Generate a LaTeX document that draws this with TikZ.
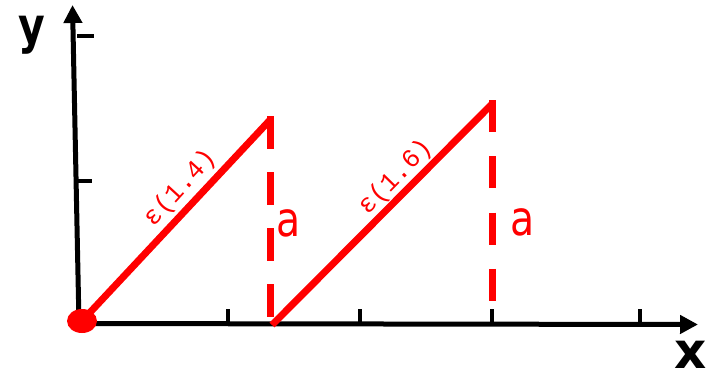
\documentclass[tikz,border=0pt]{standalone}
\usepackage{fontspec}
\setmainfont{DejaVu Sans}
\newfontfamily\monofnt{Liberation Mono}
\usetikzlibrary{arrows.meta}
\begin{document}
\begin{tikzpicture}[x=1pt,y=-1pt,
  axisline/.style={line width=5pt, -{Triangle[length=18pt,width=18pt]}},
  tickmark/.style={line width=4pt},
  redline/.style={red, line width=7pt},
  reddash/.style={red, line width=7pt, dash pattern=on 33pt off 23pt},
  elabel/.style={red, font=\monofnt\fontsize{26}{26}\selectfont, sloped, inner sep=1pt},
  alabel/.style={red, font=\fontsize{48}{48}\selectfont, anchor=base, inner sep=0pt, xscale=0.82},
  axlabel/.style={font=\bfseries\fontsize{50}{50}\selectfont, anchor=base, inner sep=0pt}]
\useasboundingbox (0,0) rectangle (708,369);
% coordinates
\coordinate (yb) at (79,324);
\coordinate (yt) at (72.5,5);
\coordinate (xl) at (76,323.5);
\coordinate (xr) at (698,324.5);
\coordinate (O) at (82,321);
\coordinate (P1) at (270,116);
\coordinate (P1e) at (270,120);
\coordinate (B1) at (270,322);
\coordinate (Q1) at (272,325);
\coordinate (P2) at (492,100);
\coordinate (P2e) at (492,104);
\coordinate (B2) at (492,323);
% axes
\draw[axisline] (yb) -- (yt);
\draw[axisline] (xl) -- (xr);
% ticks
\draw[tickmark] (77,36) -- (94,36);
\draw[tickmark] (76,181) -- (92,181);
\foreach \tx in {228,360,492,640} \draw[tickmark] (\tx,323) -- (\tx,309);
% red dashed verticals
\draw[reddash] (P1) -- (B1);
\draw[reddash, dash pattern=on 32pt off 24.3pt] (P2) -- (B2);
% red diagonals
\draw[redline] (O) -- (P1e);
\draw[redline] (Q1) -- (P2e);
\fill[red] (O) ellipse [x radius=15, y radius=12];
% labels
\path (O) -- node[elabel, pos=0.59, above=4pt] (e1) {ε(1.4)} (P1);
\path (Q1) -- node[elabel, pos=0.61, above=1.5pt] (e2) {ε(1.6)} (P2);
\node[alabel] (a1) at (288.5,236) {a};
\node[alabel] (a2) at (523,235) {a};
\node[axlabel, xscale=0.82] (ylab) at (31.5,43.7) {y};
\node[axlabel] (xlab) at (690.5,368.4) {x};
\end{tikzpicture}
\end{document}
